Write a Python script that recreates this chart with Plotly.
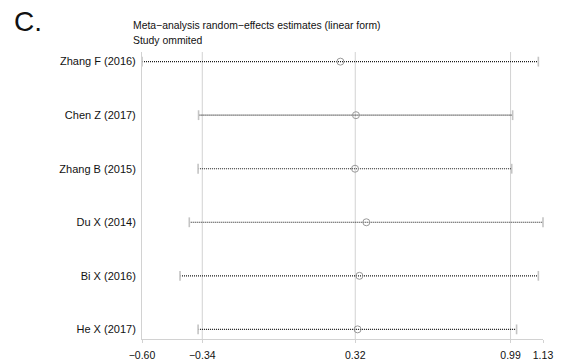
import plotly.graph_objects as go

# Leave-one-out sensitivity analysis: estimate and 95% CI with each study omitted
studies = ["Zhang F (2016)", "Chen Z (2017)", "Zhang B (2015)", "Du X (2014)", "Bi X (2016)", "He X (2017)"]
estimate = [0.256, 0.323, 0.319, 0.368, 0.338, 0.330]
lower = [-0.600, -0.356, -0.358, -0.396, -0.436, -0.358]
upper = [1.110, 0.999, 0.995, 1.130, 1.110, 1.016]

x_ticks = [-0.60, -0.34, 0.32, 0.99, 1.13]
x_tick_text = ["−0.60", "−0.34", "0.32", "0.99", "1.13"]
ref_lines = [-0.34, 0.32, 0.99]

FONT = "Liberation Sans, Arial, Helvetica, sans-serif"
GRID = "#d2d2d2"

fig = go.Figure()

# dotted confidence interval lines
for s, lo, hi in zip(studies, lower, upper):
    fig.add_trace(go.Scatter(
        x=[lo, hi], y=[s, s], mode="lines",
        line=dict(color="#1a1a1a", width=1.2, dash="1px,1px"),
        hoverinfo="skip", showlegend=False, cliponaxis=False))

# end caps of each interval
fig.add_trace(go.Scatter(
    x=lower + upper, y=studies + studies, mode="markers",
    marker=dict(symbol="line-ns", size=7, line=dict(color="#c4c4c4", width=1.6)),
    hoverinfo="skip", showlegend=False, cliponaxis=False))

# point estimates
fig.add_trace(go.Scatter(
    x=estimate, y=studies, mode="markers",
    marker=dict(symbol="circle-open", size=7, color="#9a9a9a", line=dict(width=1)),
    showlegend=False, cliponaxis=False))

# vertical reference lines at the overall estimate and its CI
for v in ref_lines:
    fig.add_shape(type="line", xref="x", yref="paper", x0=v, x1=v, y0=0, y1=1,
                  line=dict(color=GRID, width=1), layer="below")

fig.add_annotation(text="C.", xref="paper", yref="paper", x=-0.325, y=1.105,
                   xanchor="left", yanchor="middle", showarrow=False,
                   font=dict(family=FONT, size=28, color="#111"))
fig.add_annotation(text="Meta−analysis random−effects estimates (linear form)",
                   xref="paper", yref="paper", x=-0.027, y=1.091,
                   xanchor="left", yanchor="middle", showarrow=False,
                   font=dict(family=FONT, size=10.4, color="#111"))
fig.add_annotation(text="Study ommited",
                   xref="paper", yref="paper", x=-0.027, y=1.039,
                   xanchor="left", yanchor="middle", showarrow=False,
                   font=dict(family=FONT, size=10.4, color="#111"))

fig.update_layout(
    width=565, height=363,
    margin=dict(l=142, r=22, t=52, b=24, autoexpand=False),
    paper_bgcolor="white", plot_bgcolor="white",
    font=dict(family=FONT, size=11, color="#111"),
    xaxis=dict(range=[-0.60, 1.13], tickvals=x_ticks, ticktext=x_tick_text,
               showgrid=False, zeroline=False, showline=True, linecolor=GRID,
               linewidth=1, ticks="outside", ticklen=3, tickcolor=GRID,
               ticklabelstandoff=3, tickfont=dict(size=10.5), automargin=False),
    yaxis=dict(type="category", categoryorder="array",
               categoryarray=list(reversed(studies)), range=[-0.18, 5.18],
               showgrid=False, zeroline=False, showline=True, linecolor=GRID,
               linewidth=1, ticks="", ticklabelstandoff=3,
               tickfont=dict(size=11), automargin=False),
)

fig.write_html("out.html")
